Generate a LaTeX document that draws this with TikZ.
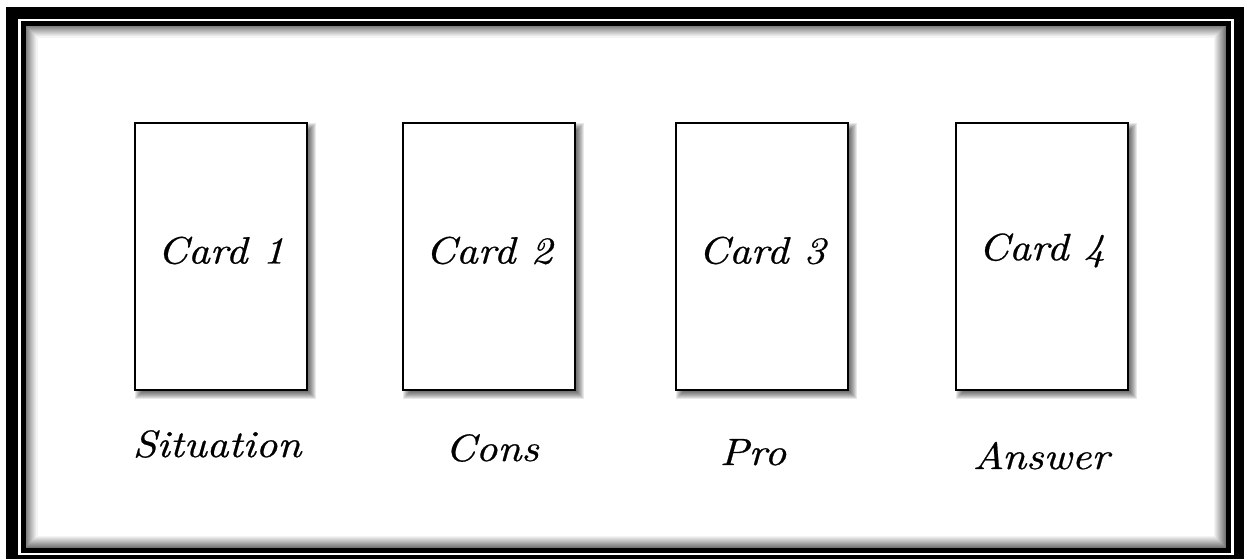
\documentclass[tikz,border=0pt]{standalone}
\usepackage{fontspec}
\newfontfamily\handfont{lmroman10-italic.otf}[FakeStretch=1.12,FakeBold=0.6]
\begin{document}
\begin{tikzpicture}[x=1pt,y=-1pt,
  card/.style={draw=black, fill=white, line width=2pt, minimum width=172pt, minimum height=267pt, inner sep=0pt},
  handtext/.style={font=\handfont\fontsize{38}{40}\selectfont, inner sep=0pt},
  caption/.style={handtext, anchor=base}]
\useasboundingbox (0,0) rectangle (1245,559);
% outer frame
\fill[black] (6,7) rectangle (1244,559);
\fill[white] (18,19) rectangle (1234,555);
% inner frame with inner shadow
\foreach \i in {1,...,12}{
  \pgfmathsetmacro{\g}{(13-\i)*4.5}
  \draw[black!\g, line width=1.05pt] (25.5+\i-0.5,25.5+\i-0.5) rectangle (1226-\i+0.5,548-\i+0.5);
}
\draw[black, line width=5pt] (23,23.5) rectangle (1228.5,550.5);
% card shadows
\foreach \cx in {221,489,762,1042}{
  \foreach \j in {0,...,8}{
    \fill[black,opacity=0.09] (\cx-86+\j,123+\j) rectangle (\cx+95-\j,399-\j);
  }
}
% cards
\node[card] (c1) at (221,256.5) {};
\node[card] (c2) at (489,256.5) {};
\node[card] (c3) at (762,256.5) {};
\node[card] (c4) at (1042,256.5) {};
% card texts
\node[handtext] (t1) at ([yshift=6pt]c1.center) {Card 1};
\node[handtext] (t2) at ([yshift=6pt]c2.center) {Card 2};
\node[handtext] (t3) at ([yshift=6pt]c3.center) {Card 3};
\node[handtext] (t4) at ([yshift=6pt]c4.center) {Card 4};
% captions
\node[caption] (l1) at (217,457) {Situation};
\node[caption] (l2) at (492,461) {Cons};
\node[caption] (l3) at (753,465) {Pro};
\node[caption] (l4) at (1041,469) {Answer};
\end{tikzpicture}
\end{document}
